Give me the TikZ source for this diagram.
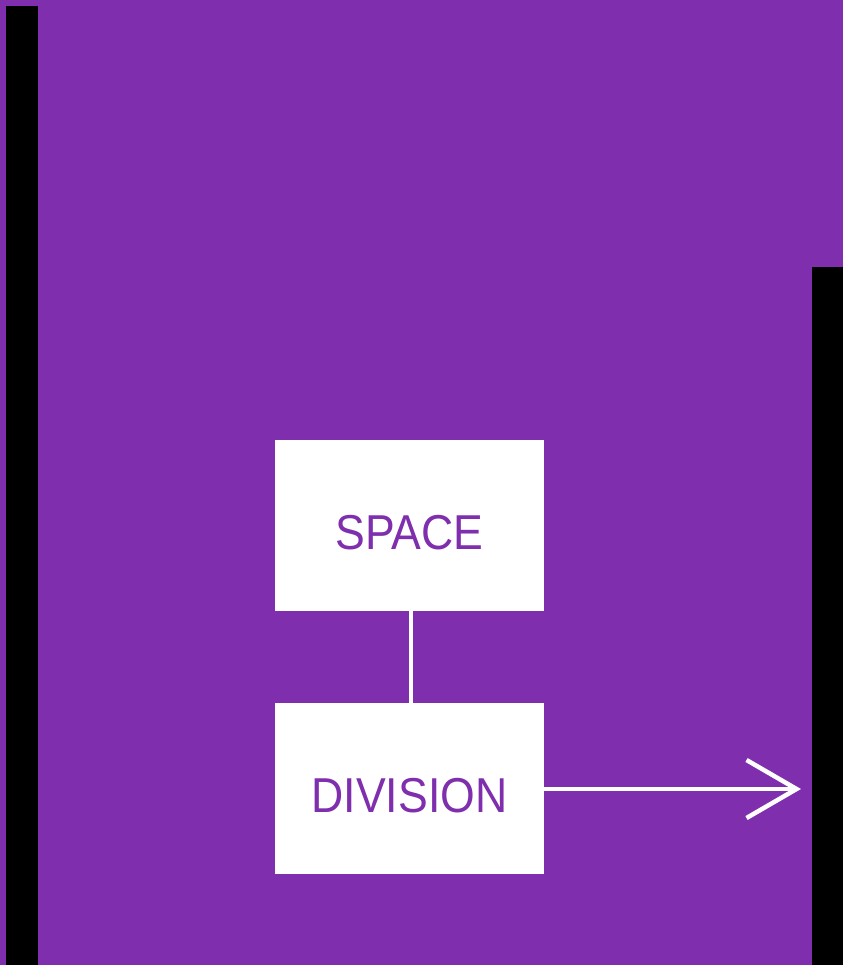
\documentclass[tikz,border=0pt]{standalone}
\usepackage{fontspec}
\setmainfont{Liberation Sans}
\newfontfamily\boxfont[FakeStretch=0.91]{Liberation Sans}
\usetikzlibrary{arrows.meta}
\definecolor{bgpurple}{RGB}{127,46,173}
\newcommand{\boxtext}[1]{\raisebox{-23.5pt}[0pt][0pt]{#1}}
\tikzset{
  box/.style={fill=white, draw=none, minimum width=269pt, minimum height=171pt, inner sep=0pt, text=bgpurple, font=\boxfont\fontsize{49pt}{58pt}\selectfont},
  conn/.style={white, line width=4.5pt},
  bar/.style={fill=black, draw=none}
}
\begin{document}
\begin{tikzpicture}[x=1pt,y=-1pt]
\useasboundingbox (0,0) rectangle (843,965);
\fill[bgpurple] (0,0) rectangle (843,965);
\fill[bar] (6,6) rectangle (38,965);
\fill[bar] (812,267) rectangle (843,965);
\node[box] (space) at (409.5,525.5) {\boxtext{SPACE}};
\node[box] (division) at (409.5,788.5) {\boxtext{DIVISION}};
\coordinate (tip) at (801,789);
\draw[conn] ([xshift=1.5pt]space.south) -- ([xshift=1.5pt]division.north);
\draw[conn, -{Straight Barb[length=50pt, width=58pt, line width=4.5pt]}] (division.east |- tip) -- (tip);
\end{tikzpicture}
\end{document}
